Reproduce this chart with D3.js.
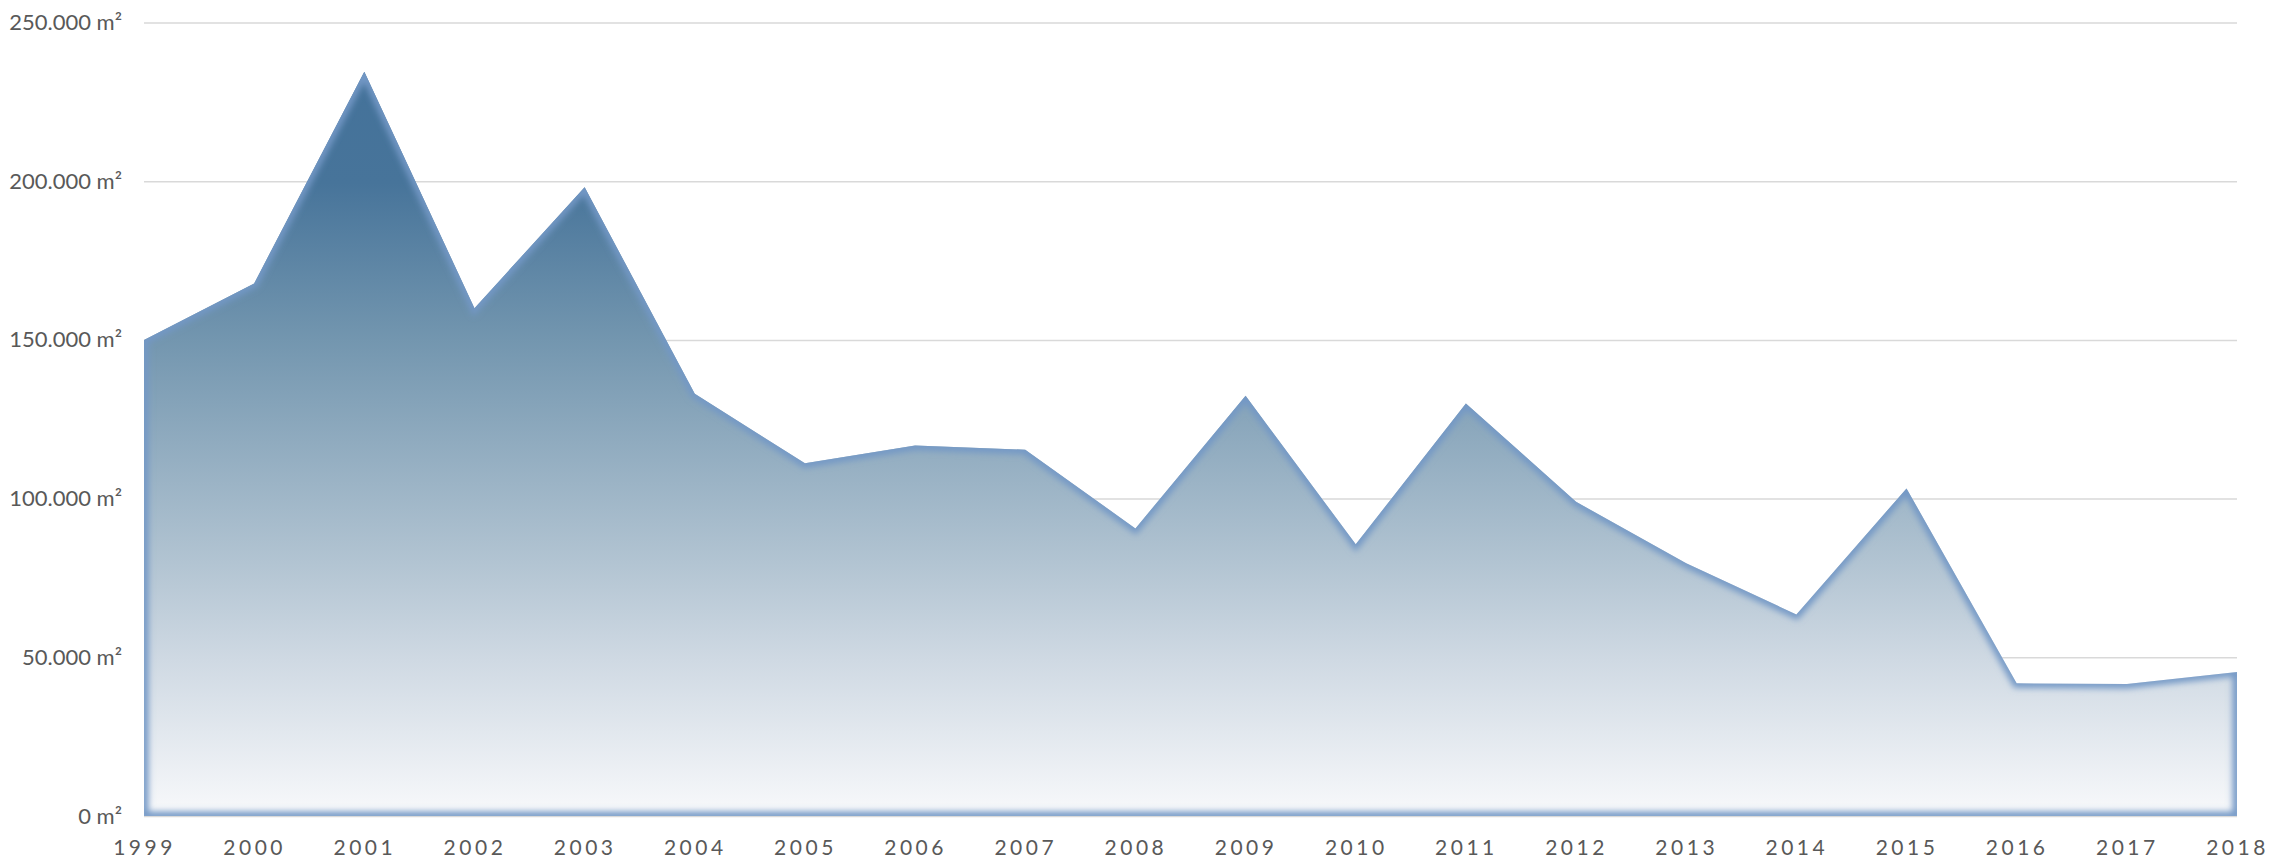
<!DOCTYPE html>
<html>
<head>
<meta charset="utf-8">
<script src="https://cdn.jsdelivr.net/npm/d3@7"></script>
<style>
  body { margin: 0; background: #fff; }
  text { font-family: Lato, "Open Sans", sans-serif; fill: #595959; }
</style>
</head>
<body>
<div id="chart"></div>
<script>
let years = ["1999", "2000", "2001", "2002", "2003", "2004", "2005", "2006", "2007", "2008",
             "2009", "2010", "2011", "2012", "2013", "2014", "2015", "2016", "2017", "2018"];
let area_m2 = [150000, 167800, 234500, 160000, 198100, 133000, 111100, 116700, 115400, 90600,
               132400, 85600, 130000, 99000, 79600, 63500, 103200, 41800, 41600, 45400];
let yTicks = [0, 50000, 100000, 150000, 200000, 250000];

let height = 858,
    width = 2269,
    margin = ({ top: 22.5, right: 32, bottom: 42, left: 144 });

const svg = d3.select("#chart")
  .append("svg")
  .attr("width", width)
  .attr("height", height);

let data = years.map((y, i) => ({ year: y, value: area_m2[i] }));

let x = d3.scalePoint()
  .domain(years)
  .range([margin.left, width - margin.right]);

let y = d3.scaleLinear()
  .domain([0, 250000])
  .range([height - margin.bottom, margin.top]);

let nl = d3.formatLocale({ decimal: ",", thousands: ".", grouping: [3], currency: ["", ""] });
let fmt = nl.format(",");

// gridlines + y labels
let yAxis = svg.append("g")
  .attr("class", "y_ax")
  .attr("transform", `translate(${margin.left},0)`)
  .call(d3.axisLeft(y).tickValues(yTicks).tickSize(-(width - margin.left - margin.right)).tickPadding(22)
    .tickFormat(d => fmt(d) + " m²"));
yAxis.select(".domain").remove();
yAxis.selectAll(".tick line").attr("stroke", "#d9d9d9").attr("stroke-width", 1.5);
yAxis.selectAll(".tick text")
  .attr("font-size", 22)
  .attr("font-family", "Lato, sans-serif")
  .attr("fill", "#595959");

// area with gradient fill
const defs = svg.append("defs");
let grad = defs.append("linearGradient")
  .attr("id", "fillGrad")
  .attr("gradientUnits", "userSpaceOnUse")
  .attr("x1", 0).attr("x2", 0)
  .attr("y1", y(d3.max(area_m2))).attr("y2", y(0));
[[0, "#44729a"], [0.15, "#47749a"], [0.36, "#7396af"], [0.66, "#b2c4d2"], [0.79, "#cfd9e3"], [1, "#f8f9fb"]]
  .forEach(s => grad.append("stop").attr("offset", s[0]).attr("stop-color", s[1]));

defs.append("filter")
  .attr("id", "soft")
  .attr("x", "-5%").attr("y", "-5%").attr("width", "110%").attr("height", "110%")
  .append("feGaussianBlur")
  .attr("stdDeviation", 3);

let area = d3.area()
  .x(d => x(d.year))
  .y0(y(0))
  .y1(d => y(d.value));

let areaPath = area(data);

defs.append("clipPath")
  .attr("id", "areaClip")
  .append("path")
  .attr("d", areaPath);

svg.append("path")
  .attr("d", areaPath)
  .attr("fill", "url(#fillGrad)");

// inner glow along the outline
svg.append("g")
  .attr("clip-path", "url(#areaClip)")
  .append("path")
  .attr("d", areaPath)
  .attr("fill", "none")
  .attr("stroke", "#7398c6")
  .attr("stroke-width", 9)
  .attr("filter", "url(#soft)");

// x labels
let xAxis = svg.append("g")
  .attr("transform", `translate(0,${height - margin.bottom})`)
  .call(d3.axisBottom(x).tickSize(0).tickPadding(24));
xAxis.select(".domain").remove();
xAxis.selectAll(".tick text")
  .attr("font-size", 21)
  .attr("font-family", "Lato, sans-serif")
  .attr("letter-spacing", "3.5px")
  .attr("fill", "#595959");
</script>
</body>
</html>
